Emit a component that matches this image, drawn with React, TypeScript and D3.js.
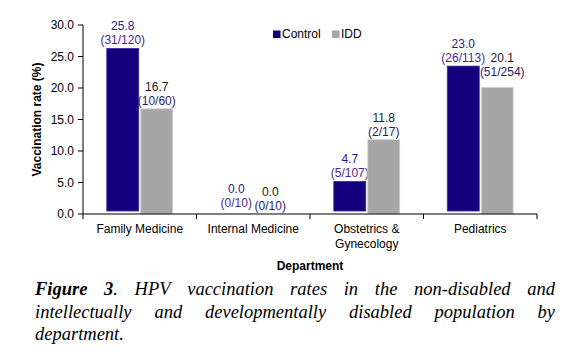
import React, { useMemo } from 'react';
import * as d3 from 'd3';

const categories = ['Family Medicine', 'Internal Medicine', 'Obstetrics & Gynecology', 'Pediatrics'];
const categoryLines = [['Family Medicine'], ['Internal Medicine'], ['Obstetrics &', 'Gynecology'], ['Pediatrics']];
const seriesNames = ['Control', 'IDD'];
const controlRates = [25.8, 0.0, 4.7, 23.0];
const controlCounts = ['(31/120)', '(0/10)', '(5/107)', '(26/113)'];
const iddRates = [16.7, 0.0, 11.8, 20.1];
const iddCounts = ['(10/60)', '(0/10)', '(2/17)', '(51/254)'];
const yTicks = [0, 5, 10, 15, 20, 25, 30];

const captionLines = [
  ['Figure', '3.', 'HPV', 'vaccination', 'rates', 'in', 'the', 'non-disabled', 'and'],
  ['intellectually', 'and', 'developmentally', 'disabled', 'population', 'by'],
  ['department.'],
];

const W = 587;
const H = 354;
const plot = { left: 83, right: 537, top: 25, bottom: 214 };
const sans = "'Liberation Sans', Arial, sans-serif";
const serif = "'Liberation Serif', 'Times New Roman', serif";
const capSize = 18.5;

const colors: Record<string, string> = { Control: '#14007f', IDD: '#a6a6a6' };
const labelColors: Record<string, string> = { Control: '#2a1a8a', IDD: '#1a1a1a' };

function measure(text: string, font: string) {
  const ctx = document.createElement('canvas').getContext('2d')!;
  ctx.font = font;
  return ctx.measureText(text).width;
}

export default function App() {
  const x = d3.scaleBand<string>().domain(categories).range([plot.left, plot.right]);
  const xs = d3.scaleBand<string>().domain(seriesNames).range([0, x.bandwidth()]).paddingInner(0.06).paddingOuter(0.7);
  const y = d3.scaleLinear().domain([0, 30]).range([plot.bottom, plot.top]);

  const series = [
    { name: 'Control', rates: controlRates, counts: controlCounts, lift: 3 },
    { name: 'IDD', rates: iddRates, counts: iddCounts, lift: 0 },
  ];

  // justified caption: spread words over the line width
  const caption = useMemo(() => {
    const x0 = 35, x1 = 555;
    return captionLines.map((words, li) => {
      const widths = words.map((w, i) => {
        const bold = li === 0 && i < 2;
        return measure(w, `italic ${bold ? 'bold ' : ''}${capSize}px ${serif}`);
      });
      const total = d3.sum(widths);
      const last = li === captionLines.length - 1;
      const gap = last || words.length < 2 ? capSize * 0.25 : (x1 - x0 - total) / (words.length - 1);
      let cx = x0;
      return words.map((w, i) => {
        const pos = cx;
        cx += widths[i] + gap;
        return { w, x: pos, bold: li === 0 && i < 2 };
      });
    });
  }, []);

  const boundaries = [...categories.map(c => x(c)!), plot.right];

  // label baselines (first line), pushing IDD label up/right if it would collide with Control's
  const labelPos = (si: number, i: number) => {
    const s = series[si];
    const cx = x(categories[i])! + xs(s.name)! + xs.bandwidth() / 2;
    const top = y(s.rates[i]) - s.lift;
    if (si === 1) {
      const cTop = y(controlRates[i]) - series[0].lift;
      if (s.rates[i] > 0 && top - cTop < 30 && top - cTop > 0) {
        return { x: cx + 5, y: cTop - 4 };
      }
    }
    return { x: cx, y: top - 18 };
  };

  return (
    <svg width={W} height={H} style={{ position: 'absolute', left: 0, top: 0, background: '#fff' }}>
      {/* bars */}
      {series.map((s, si) =>
        categories.map((c, i) => {
          const bx = x(c)! + xs(s.name)!;
          const top = y(s.rates[i]) - s.lift;
          const h = y(0) - y(s.rates[i]);
          const lp = labelPos(si, i);
          return (
            <g key={s.name + c}>
              {h > 0 && (
                <rect x={bx} y={top} width={xs.bandwidth()} height={h}
                  fill={colors[s.name]} stroke={s.name === 'IDD' ? '#d4d4d4' : '#3a2a9a'} strokeWidth={0.8} />
              )}
              <text x={lp.x} y={lp.y} textAnchor="middle"
                fontFamily={sans} fontSize={12} fill={labelColors[s.name]}>
                {s.rates[i].toFixed(1)}
              </text>
              <text x={lp.x} y={lp.y + 14} textAnchor="middle"
                fontFamily={sans} fontSize={12} fill={s.name === 'Control' ? '#4b1f8f' : '#2a1a6a'}>
                {s.counts[i]}
              </text>
            </g>
          );
        })
      )}

      {/* y axis */}
      <line x1={plot.left} x2={plot.left} y1={plot.top} y2={plot.bottom} stroke="#000" />
      {yTicks.map(t => (
        <g key={t}>
          <line x1={plot.left - 5} x2={plot.left} y1={y(t)} y2={y(t)} stroke="#000" />
          <text x={plot.left - 9} y={y(t) + 4} textAnchor="end" fontFamily={sans} fontSize={12} fill="#000">
            {t.toFixed(1)}
          </text>
        </g>
      ))}
      <text transform={`translate(41,${(plot.top + plot.bottom) / 2}) rotate(-90)`} textAnchor="middle"
        fontFamily={sans} fontSize={12} fontWeight="bold">
        Vaccination rate (%)
      </text>

      {/* x axis */}
      <line x1={plot.left} x2={plot.right} y1={plot.bottom} y2={plot.bottom} stroke="#000" />
      {boundaries.map((b, i) => (
        <line key={i} x1={b} x2={b} y1={plot.bottom} y2={plot.bottom + 5} stroke="#000" />
      ))}
      {categories.map((c, i) => (
        <text key={c} x={x(c)! + x.bandwidth() / 2} y={233} textAnchor="middle" fontFamily={sans} fontSize={12}>
          {categoryLines[i].map((l, j) => (
            <tspan key={j} x={x(c)! + x.bandwidth() / 2} dy={j === 0 ? 0 : 15}>{l}</tspan>
          ))}
        </text>
      ))}
      <text x={(plot.left + plot.right) / 2} y={270} textAnchor="middle" fontFamily={sans} fontSize={12} fontWeight="bold">
        Department
      </text>

      {/* legend */}
      {seriesNames.map((n, i) => {
        const lx = i === 0 ? 273 : 332;
        return (
          <g key={n}>
            <rect x={lx} y={30.5} width={7.5} height={7.5} fill={colors[n]} />
            <text x={lx + 9} y={38} fontFamily={sans} fontSize={12}>{n}</text>
          </g>
        );
      })}

      {/* caption */}
      {caption.map((words, li) => (
        <g key={li}>
          {words.map((wd, i) => (
            <text key={i} x={wd.x} y={295 + li * 22.5} fontFamily={serif} fontSize={capSize}
              fontStyle="italic" fontWeight={wd.bold ? 'bold' : 'normal'}>
              {wd.w === '3.' ? (
                <>
                  <tspan fontWeight="bold">3</tspan>
                  <tspan fontWeight="normal">.</tspan>
                </>
              ) : wd.w}
            </text>
          ))}
        </g>
      ))}
    </svg>
  );
}
